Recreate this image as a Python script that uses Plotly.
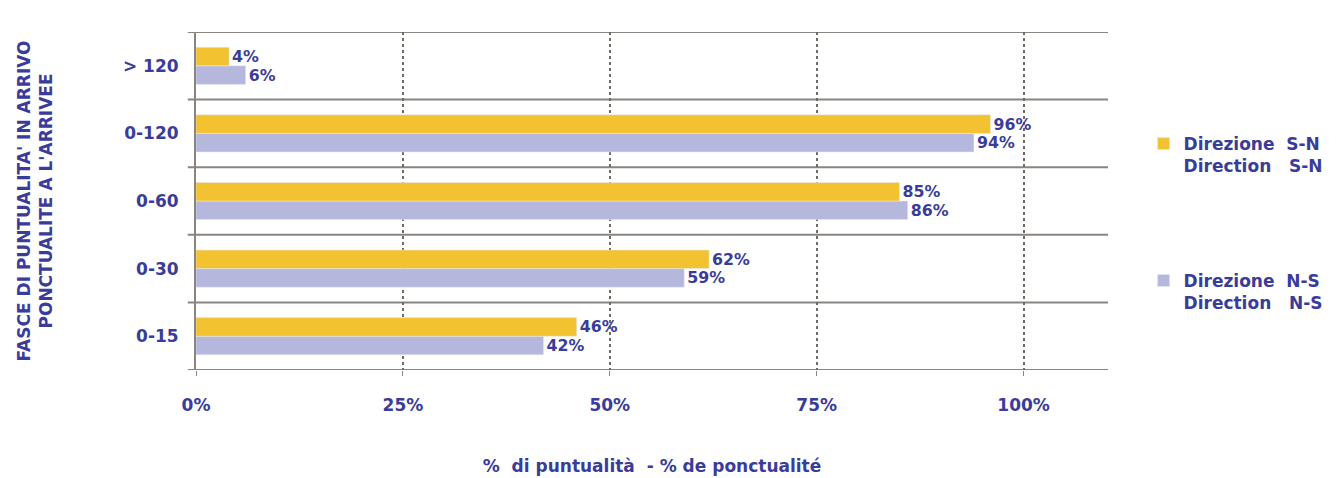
import plotly.graph_objects as go

categories = ["0-15", "0-30", "0-60", "0-120", "> 120"]
sn_values = [46, 62, 85, 96, 4]
ns_values = [42, 59, 86, 94, 6]
x_ticks = [0, 25, 50, 75, 100]
x_tick_labels = ["0%", "25%", "50%", "75%", "100%"]

TXT = "#3a3c9a"
YELLOW = "#f2c230"
LAV = "#b5b8dc"
FONT = "DejaVu Sans"

fig = go.Figure()
fig.add_trace(go.Bar(
    y=categories, x=ns_values, orientation="h", name="<b>Direzione  N-S<br>Direction   N-S</b>",
    marker=dict(color=LAV), text=[f"<b>{v}%</b>" for v in ns_values], textposition="outside",
    textfont=dict(color=TXT, size=17, family=FONT), cliponaxis=False, legend="legend2",
))
fig.add_trace(go.Bar(
    y=categories, x=sn_values, orientation="h", name="<b>Direzione  S-N<br>Direction   S-N</b>",
    marker=dict(color=YELLOW), text=[f"<b>{v}%</b>" for v in sn_values], textposition="outside",
    textfont=dict(color=TXT, size=17, family=FONT), cliponaxis=False, legend="legend",
))

shapes = []
for i in range(len(categories) + 1):
    shapes.append(dict(type="line", xref="paper", x0=-0.009, x1=1, yref="y", y0=i - 0.5, y1=i - 0.5,
                       line=dict(color="#8a8580", width=2), layer="below"))

fig.update_layout(
    width=1341, height=478,
    margin=dict(l=188, r=241, t=24, b=116),
    paper_bgcolor="white", plot_bgcolor="white",
    barmode="group", bargap=0.45, bargroupgap=0,
    font=dict(family=FONT, color=TXT),
    shapes=shapes, showlegend=True,
    xaxis=dict(range=[0, 110.2], tickvals=x_ticks, ticktext=[f"<b>{t}</b>" for t in x_tick_labels],
               showgrid=True, gridcolor="#6e6a66", griddash="dot", gridwidth=1.5, automargin=False,
               zeroline=False, showline=False, ticks="outside", ticklen=5, tickcolor="#8a8580",
               tickfont=dict(size=17, color=TXT), ticklabelstandoff=15,
               title=dict(text="<b>%  di puntualità  - % de ponctualité</b>", font=dict(size=17, color=TXT),
                          standoff=45)),
    yaxis=dict(categoryorder="array", categoryarray=categories, range=[-0.5, 4.5], automargin=False,
               showline=True, linecolor="#8a8580", linewidth=2, showgrid=False,
               tickfont=dict(size=17, color=TXT), ticklabelstandoff=12,
               tickvals=categories, ticktext=[f"<b>{c}</b>" for c in categories],
               title=dict(text="<b>FASCE DI PUNTUALITA' IN ARRIVO<br>PONCTUALITE A L'ARRIVEE</b>",
                          font=dict(size=17, color=TXT), standoff=66)),
    legend=dict(x=1.039, y=0.636, xanchor="left", yanchor="middle", font=dict(size=17, color=TXT),
                bgcolor="rgba(0,0,0,0)", itemwidth=30, valign="top"),
    legend2=dict(x=1.039, y=0.231, xanchor="left", yanchor="middle", font=dict(size=17, color=TXT),
                 bgcolor="rgba(0,0,0,0)", itemwidth=30, valign="top"),
)

fig.write_html("out.html")
